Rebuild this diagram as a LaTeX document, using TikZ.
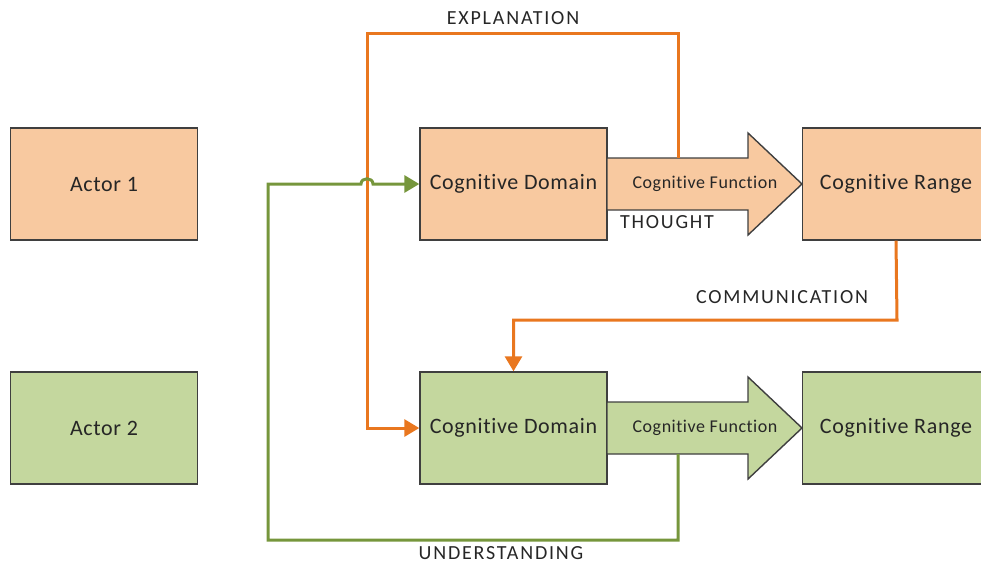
\documentclass[tikz,border=0pt]{standalone}
\usepackage{fontspec}
\setmainfont[Ligatures=NoCommon]{Carlito}
\usetikzlibrary{arrows.meta}
\definecolor{orfill}{HTML}{F8C9A0}
\definecolor{grfill}{HTML}{C4D79E}
\definecolor{orline}{HTML}{E9771F}
\definecolor{grline}{HTML}{76963C}
\definecolor{boxline}{HTML}{3F3F3F}
\definecolor{txt}{HTML}{262626}
\newfontfamily\boxfont[Ligatures=NoCommon, LetterSpace=3]{Carlito}
\newfontfamily\capfont[Ligatures=NoCommon, LetterSpace=9]{Carlito}
\tikzset{
  box/.style={draw=boxline, line width=1.4pt, minimum width=187pt, minimum height=112pt,
              inner sep=0pt, text=txt, font=\boxfont\fontsize{22}{26}\selectfont},
  fnshape/.style={draw=boxline, line width=1.4pt},
  fnlabel/.style={inner sep=0pt, text=txt, font=\boxfont\fontsize{18}{21}\selectfont},
  link/.style={line width=3pt, -{Triangle[length=15pt,width=17pt]}},
  orlink/.style={link, draw=orline},
  grlink/.style={link, draw=grline},
  caption/.style={inner sep=0pt, text=txt, font=\capfont\fontsize{20}{24}\selectfont}
}
\begin{document}
\begin{tikzpicture}[x=1pt,y=-1pt]
\useasboundingbox (0,0) rectangle (981,566);
\clip (0,0) rectangle (981,566);

% actors
\node[box, fill=orfill] (a1) at (104,184) {Actor 1};
\node[box, fill=grfill] (a2) at (104,428) {Actor 2};

% cognitive domains
\node[box, fill=orfill] (d1) at (513.5,184) {Cognitive Domain};
\node[box, fill=grfill] (d2) at (513.5,428) {Cognitive Domain};

% cognitive ranges (run past the right edge)
\node[box, fill=orfill] (r1) at (896,184) {Cognitive Range};
\node[box, fill=grfill] (r2) at (896,428) {Cognitive Range};

% cognitive function block arrows
\path[fnshape, fill=orfill] (607,158) -- (748,158) -- (748,133) -- (802,184)
  -- (748,235) -- (748,210) -- (607,210) -- cycle;
\node[fnlabel] (f1) at (705,184) {Cognitive Function};
\path[fnshape, fill=grfill] (607,402) -- (748,402) -- (748,377) -- (802,428)
  -- (748,479) -- (748,454) -- (607,454) -- cycle;
\node[fnlabel] (f2) at (705,428) {Cognitive Function};

\coordinate (f1top) at (678,158);
\coordinate (f2bot) at (678,454);

% explanation loop
\draw[orlink] (f1top) -- (678,33) -- (367,33) -- (367,428) -- (d2.west);

% understanding loop, hopping over the explanation line
\draw[grlink] (f2bot) -- (678,540) -- (268,540) -- (268,184) -- (361,184)
  .. controls (361,177) and (373,177) .. (373,184) -- (d1.west);

% communication
\draw[orlink] (r1.south) -- (897,320) -- (513.5,320) -- (d2.north);

% captions
\node[caption] (lexp) at (513,18) {EXPLANATION};
\node[caption] (lth) at (667,222) {THOUGHT};
\node[caption] (lcom) at (782,297) {COMMUNICATION};
\node[caption] (lund) at (501,553) {UNDERSTANDING};
\end{tikzpicture}
\end{document}
